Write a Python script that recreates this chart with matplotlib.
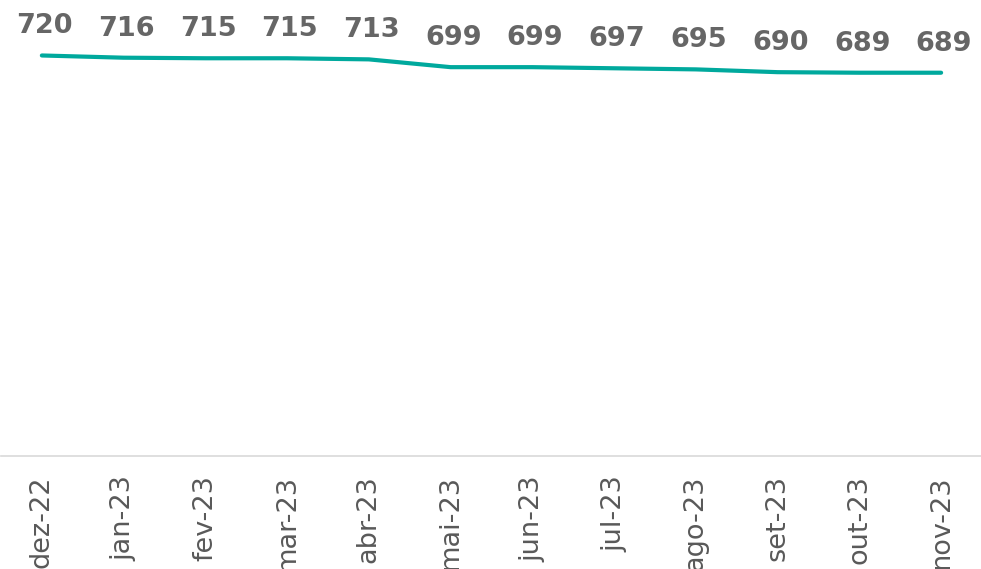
import matplotlib.pyplot as plt

meses = ['dez-22', 'jan-23', 'fev-23', 'mar-23', 'abr-23', 'mai-23',
         'jun-23', 'jul-23', 'ago-23', 'set-23', 'out-23', 'nov-23']
valores = [720, 716, 715, 715, 713, 699, 699, 697, 695, 690, 689, 689]

fig = plt.figure(figsize=(9.81, 5.69), dpi=100)
ax = fig.add_axes([0.001, 0.1986, 1.0, 0.787])

x = list(range(len(meses)))
ax.plot(x, valores, color='#00A99D', linewidth=3, solid_capstyle='round')

for i in x:
    ax.annotate(str(valores[i]), (i, valores[i]), xytext=(2, 21),
                textcoords='offset points', ha='center', va='center',
                fontsize=19.5, fontweight='bold', color='#666666')

ax.set_xlim(-0.5, len(meses) - 0.5)
ax.set_ylim(0, 805)
ax.set_xticks(x)
ax.set_xticklabels(meses, rotation=90, fontsize=19.5, color='#595959',
                   va='top')
ax.tick_params(axis='x', length=0, pad=14)
ax.set_yticks([])

for lado in ['top', 'right', 'left']:
    ax.spines[lado].set_visible(False)
ax.spines['bottom'].set_color('#D9D9D9')
ax.spines['bottom'].set_linewidth(1.2)

fig.savefig('out.png', dpi=100)
